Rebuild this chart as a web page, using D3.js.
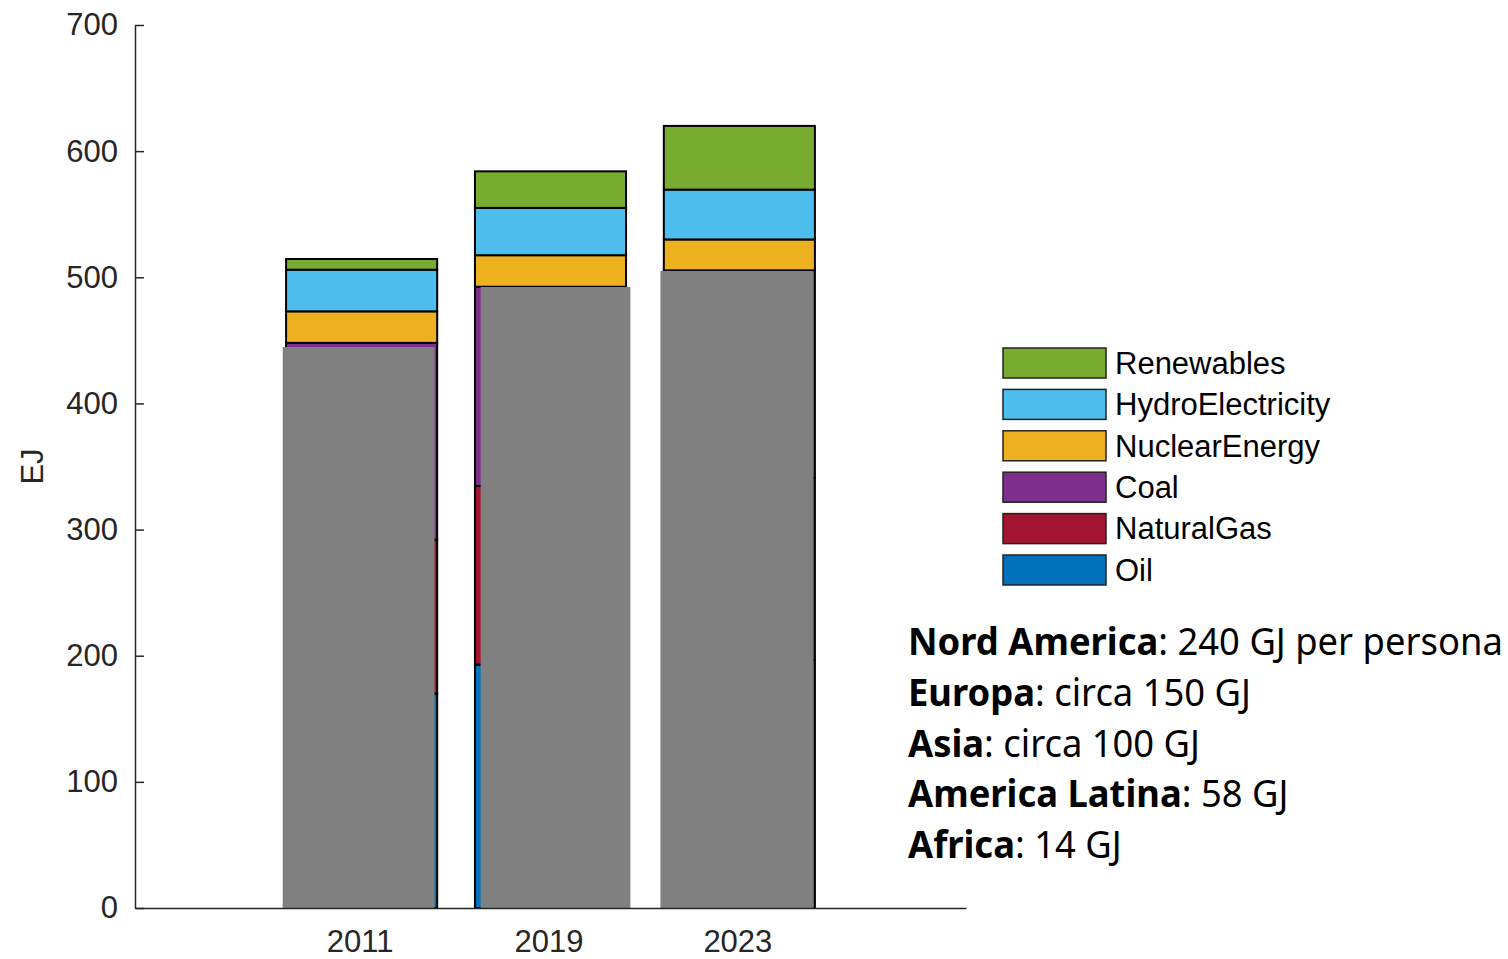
<!DOCTYPE html>
<html>
<head>
<meta charset="utf-8">
<script src="https://cdn.jsdelivr.net/npm/d3@7"></script>
<style>
  body { margin: 0; background: #fff; }
  svg { display: block; }
</style>
</head>
<body>
<svg width="1508" height="959"></svg>
<script>
const width = 1508;
const height = 959;
const margin = { top: 25, right: 542, bottom: 51, left: 135 };

// energy use by source, EJ
const years = ["2011", "2019", "2023"];
const sources = ["Oil", "NaturalGas", "Coal", "NuclearEnergy", "HydroElectricity", "Renewables"];
const oil = [170, 193, 196.5];
const naturalGas = [122, 141.5, 144.5];
const coal = [156, 158, 164.5];
const nuclear = [25, 25, 24.5];
const hydro = [33, 37.5, 39.5];
const renewables = [8.5, 29, 50.5];
const colors = ["#0072BD", "#A2142F", "#7E2F8E", "#EDB120", "#4DBEEE", "#77AC30"];
const yTicks = [0, 100, 200, 300, 400, 500, 600, 700];

// grey boxes pasted over the bars (left/right offset from bar centre in category units, top in EJ)
const coverLeft = [-0.418, -0.37, -0.418];
const coverRight = [0.386, 0.423, 0.392];
const coverTop = [444.7, 492.3, 505];

// per-capita notes
const regionNames = ["Nord America", "Europa", "Asia", "America Latina", "Africa"];
const regionValues = [": 240 GJ per persona", ": circa 150 GJ", ": circa 100 GJ", ": 58 GJ", ": 14 GJ"];

const table = years.map((y, i) => ({
  year: y,
  Oil: oil[i],
  NaturalGas: naturalGas[i],
  Coal: coal[i],
  NuclearEnergy: nuclear[i],
  HydroElectricity: hydro[i],
  Renewables: renewables[i]
}));

const svg = d3.select("svg");
const font = "'Liberation Sans', Arial, sans-serif";
const textColor = "#262626";

const xScale = d3.scaleLinear().domain([-1.2, 3.2]).range([margin.left, width - margin.right]);
const yScale = d3.scaleLinear().domain([0, 700]).range([height - margin.bottom, margin.top]);
const barW = 0.8;

const stacked = d3.stack().keys(sources)(table);

const layers = svg.append("g")
  .selectAll("g")
  .data(stacked)
  .enter()
  .append("g")
  .attr("fill", (d, i) => colors[i]);

layers.selectAll("rect")
  .data(d => d)
  .enter()
  .append("rect")
  .attr("x", (d, i) => xScale(i - barW / 2))
  .attr("width", xScale(barW) - xScale(0))
  .attr("y", d => yScale(d[1]))
  .attr("height", d => yScale(d[0]) - yScale(d[1]))
  .attr("stroke", "#000")
  .attr("stroke-width", 2);

// grey cover boxes
svg.append("g")
  .selectAll("rect")
  .data(years)
  .enter()
  .append("rect")
  .attr("x", (d, i) => xScale(i + coverLeft[i]))
  .attr("width", (d, i) => xScale(i + coverRight[i]) - xScale(i + coverLeft[i]))
  .attr("y", (d, i) => yScale(coverTop[i]))
  .attr("height", (d, i) => yScale(0) - yScale(coverTop[i]))
  .attr("fill", "#808080");

// axes
const yAxis = d3.axisLeft(yScale).tickValues(yTicks).tickSizeInner(-9).tickSizeOuter(0).tickPadding(17);
const gy = svg.append("g").attr("transform", `translate(${margin.left},0)`).call(yAxis);
gy.select(".domain").attr("stroke", textColor).attr("stroke-width", 1.5);
gy.selectAll(".tick line").attr("stroke", textColor).attr("stroke-width", 1.5);
gy.selectAll(".tick text").attr("font-family", font).attr("font-size", 31).attr("fill", textColor);

const xAxis = d3.axisBottom(xScale).tickValues([0, 1, 2]).tickFormat(i => years[i]).tickSize(0).tickPadding(22);
const gx = svg.append("g").attr("transform", `translate(0,${height - margin.bottom})`).call(xAxis);
gx.select(".domain").attr("stroke", textColor).attr("stroke-width", 1.5);
gx.selectAll(".tick text").attr("font-family", font).attr("font-size", 31).attr("fill", textColor).attr("dx", -2);

svg.append("text")
  .attr("transform", `translate(43,${(yScale(0) + yScale(700)) / 2}) rotate(-90)`)
  .attr("text-anchor", "middle")
  .attr("font-family", font)
  .attr("font-size", 31)
  .attr("fill", textColor)
  .text("EJ");

// legend
const legendOrder = sources.slice().reverse();
const legend = svg.append("g").attr("transform", "translate(1003,348)");
const rows = legend.selectAll("g")
  .data(legendOrder)
  .enter()
  .append("g")
  .attr("transform", (d, i) => `translate(0,${i * 41.4})`);
rows.append("rect")
  .attr("width", 103)
  .attr("height", 30)
  .attr("fill", d => colors[sources.indexOf(d)])
  .attr("stroke", "#222")
  .attr("stroke-width", 1.5);
rows.append("text")
  .attr("x", 112)
  .attr("y", 15)
  .attr("dy", "0.35em")
  .attr("font-family", font)
  .attr("font-size", 31)
  .attr("fill", "#000")
  .text(d => d);

// per-capita notes
const notes = svg.append("g");
const lines = notes.selectAll("text")
  .data(regionNames)
  .enter()
  .append("text")
  .attr("x", 0)
  .attr("y", (d, i) => 655 + i * 50.8)
  .attr("font-family", "'Noto Sans', 'Open Sans', sans-serif")
  .attr("font-size", 38)
  .attr("fill", "#000");
lines.append("tspan").attr("font-weight", "bold").text(d => d);
lines.append("tspan").text((d, i) => regionValues[i]);

const firstW = lines.node().getComputedTextLength();
const sx = 595 / firstW;
notes.attr("transform", `translate(908,0) scale(${sx},1)`);
</script>
</body>
</html>
